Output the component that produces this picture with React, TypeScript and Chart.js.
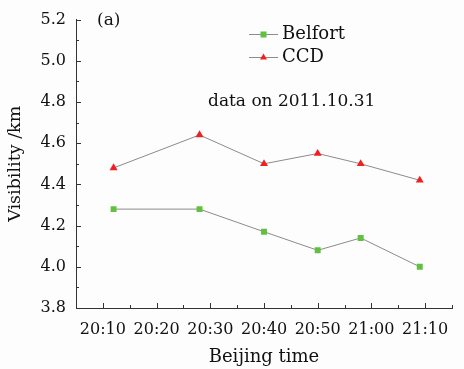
import React, { useEffect, useRef } from 'react';
import { Chart, registerables } from 'chart.js';

Chart.register(...registerables);

// ---- data ----
const sampleTimes = ['20:12', '20:28', '20:40', '20:50', '20:58', '21:09'];
const belfortValues = [4.28, 4.28, 4.17, 4.08, 4.14, 4.0];
const ccdValues = [4.48, 4.64, 4.5, 4.55, 4.5, 4.42];
const xTickLabels = ['20:10', '20:20', '20:30', '20:40', '20:50', '21:00', '21:10'];
const yTickLabels = ['3.8', '4.0', '4.2', '4.4', '4.6', '4.8', '5.0', '5.2'];
const seriesNames = ['Belfort', 'CCD'];
const xRange = ['20:05', '21:15'];

const FONT = "'DejaVu Serif', serif";
const GREEN = '#62c040';
const RED = '#ee2020';
const LINE = '#8c8c8c';
const AXIS = '#333333';

const toMin = (s: string) => {
  const [h, m] = s.split(':').map(Number);
  return h * 60 + m;
};
const fmt = (v: number) => {
  const h = Math.floor(v / 60);
  const m = Math.round(v - h * 60);
  return `${h}:${m < 10 ? '0' + m : m}`;
};

const ticksPlugin = {
  id: 'innerTicks',
  afterDraw(chart: any) {
    const { ctx, chartArea } = chart;
    const x = chart.scales.x;
    const y = chart.scales.y;
    ctx.save();
    ctx.strokeStyle = AXIS;
    ctx.lineWidth = 1;
    const x0 = toMin(xRange[0]);
    const x1 = toMin(xRange[1]);
    for (let v = x0; v <= x1; v += 5) {
      const px = Math.round(x.getPixelForValue(v)) + 0.5;
      const len = v % 10 === 0 ? 5 : 3;
      ctx.beginPath();
      ctx.moveTo(px, chartArea.bottom);
      ctx.lineTo(px, chartArea.bottom - len);
      ctx.stroke();
    }
    const yMin = parseFloat(yTickLabels[0]);
    const yMax = parseFloat(yTickLabels[yTickLabels.length - 1]);
    for (let i = 0; i <= Math.round((yMax - yMin) * 10); i++) {
      const v = yMin + i * 0.1;
      const py = Math.round(y.getPixelForValue(v)) + 0.5;
      const len = i % 2 === 0 ? 5 : 3;
      ctx.beginPath();
      ctx.moveTo(chartArea.left, py);
      ctx.lineTo(chartArea.left + len, py);
      ctx.stroke();
    }
    ctx.restore();
  },
};

const annotPlugin = {
  id: 'annot',
  beforeDraw(chart: any) {
    const { ctx, width, height } = chart;
    ctx.save();
    ctx.fillStyle = '#fdfdfd';
    ctx.fillRect(0, 0, width, height);
    ctx.restore();
  },
  afterDraw(chart: any) {
    const { ctx } = chart;
    ctx.save();
    ctx.fillStyle = '#111';
    ctx.textBaseline = 'middle';
    ctx.textAlign = 'left';
    ctx.font = `17px ${FONT}`;
    ctx.fillText('(a)', 97, 21);
    ctx.fillText('data on 2011.10.31', 208, 102);
    // legend
    ctx.font = `18px ${FONT}`;
    const rows = [
      { name: seriesNames[0], y: 34, color: GREEN, shape: 'rect' },
      { name: seriesNames[1], y: 57, color: RED, shape: 'tri' },
    ];
    rows.forEach((r) => {
      ctx.strokeStyle = LINE;
      ctx.lineWidth = 1;
      ctx.beginPath();
      ctx.moveTo(249, r.y + 0.5);
      ctx.lineTo(278, r.y + 0.5);
      ctx.stroke();
      ctx.fillStyle = r.color;
      const cx = 263.5;
      if (r.shape === 'rect') {
        ctx.fillRect(cx - 3, r.y - 2.5, 6, 6);
      } else {
        ctx.beginPath();
        ctx.moveTo(cx, r.y - 3.5);
        ctx.lineTo(cx + 3.5, r.y + 2.5);
        ctx.lineTo(cx - 3.5, r.y + 2.5);
        ctx.closePath();
        ctx.fill();
      }
      ctx.fillStyle = '#111';
      ctx.fillText(r.name, 282, r.y);
    });
    ctx.restore();
  },
};

export default function App() {
  const ref = useRef<HTMLCanvasElement | null>(null);
  useEffect(() => {
    if (!ref.current) return;
    const xs = sampleTimes.map(toMin);
    const chart = new Chart(ref.current, {
      type: 'line',
      data: {
        datasets: [
          {
            label: seriesNames[0],
            data: xs.map((x, i) => ({ x, y: belfortValues[i] })),
            borderColor: LINE,
            borderWidth: 1,
            pointStyle: 'rect',
            pointRadius: 4.2,
            pointBackgroundColor: GREEN,
            pointBorderColor: GREEN,
            pointBorderWidth: 0,
            tension: 0,
          },
          {
            label: seriesNames[1],
            data: xs.map((x, i) => ({ x, y: ccdValues[i] })),
            borderColor: LINE,
            borderWidth: 1,
            pointStyle: 'triangle',
            pointRadius: 4.6,
            pointBackgroundColor: RED,
            pointBorderColor: RED,
            pointBorderWidth: 0,
            tension: 0,
          },
        ],
      },
      options: {
        animation: false,
        responsive: false,
        maintainAspectRatio: false,
        layout: { padding: { left: 0, right: 3, top: 15, bottom: 0 } },
        plugins: { legend: { display: false }, tooltip: { enabled: false } },
        scales: {
          x: {
            type: 'linear',
            min: toMin(xRange[0]),
            max: toMin(xRange[1]),
            afterFit: (s: any) => {
              s.height = 61;
            },
            grid: { display: false, drawTicks: false },
            border: { display: true, color: AXIS, width: 1 },
            ticks: {
              stepSize: 5,
              autoSkip: false,
              maxRotation: 0,
              padding: 12,
              color: '#111',
              font: { family: FONT, size: 16 },
              callback: (v: any) => {
                const s = fmt(Number(v));
                return xTickLabels.includes(s) ? s : '';
              },
            },
            title: {
              display: true,
              text: 'Beijing time',
              color: '#111',
              font: { family: FONT, size: 18 },
              padding: { top: 0, bottom: 1 },
            },
          },
          y: {
            type: 'linear',
            min: parseFloat(yTickLabels[0]),
            max: parseFloat(yTickLabels[yTickLabels.length - 1]),
            afterFit: (s: any) => {
              s.width = 76;
            },
            grid: { display: false, drawTicks: false },
            border: { display: true, color: AXIS, width: 1 },
            ticks: {
              stepSize: 0.2,
              autoSkip: false,
              padding: 10,
              color: '#111',
              font: { family: FONT, size: 16 },
              callback: (v: any) => {
                const s = Number(v).toFixed(1);
                return yTickLabels.includes(s) ? s : '';
              },
            },
            title: {
              display: true,
              text: 'Visibility /km',
              color: '#111',
              font: { family: FONT, size: 17.5 },
              padding: { top: 5, bottom: 0 },
            },
          },
        },
      },
      plugins: [annotPlugin, ticksPlugin],
    });
    return () => chart.destroy();
  }, []);
  return (
    <div style={{ position: 'absolute', left: 0, top: 0, width: 464, height: 369 }}>
      <canvas ref={ref} width={464} height={369} style={{ display: 'block' }} />
    </div>
  );
}
